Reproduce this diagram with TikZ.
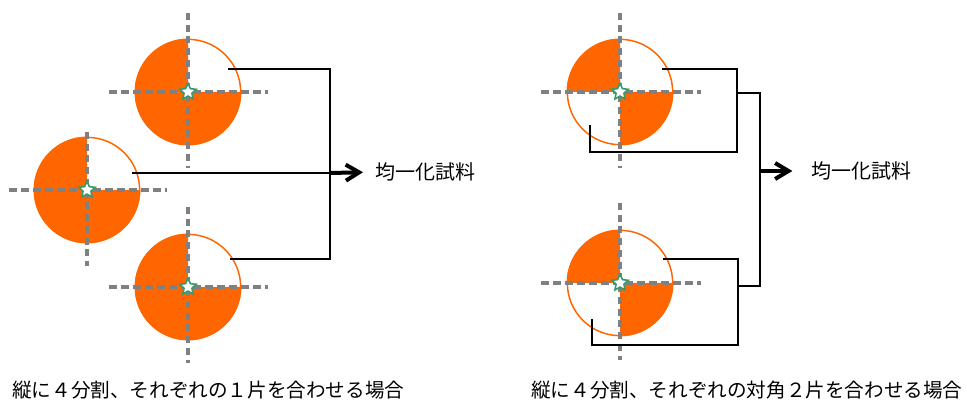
\documentclass[tikz,border=0pt]{standalone}
\usepackage{fontspec}
\setmainfont{Noto Sans CJK JP}
\usetikzlibrary{arrows.meta,shapes.geometric}
\definecolor{orng}{HTML}{FF6600}
\definecolor{dgray}{HTML}{808080}
\definecolor{stargreen}{HTML}{3A9A6E}
\newcommand{\fruit}[2]{%
  \draw[orng,line width=1.1pt] (#1) circle[radius=39.5pt];
  \foreach \a in {#2} {\fill[orng] (#1) -- ++(\a:40pt) arc[start angle=\a,end angle=\a+90,radius=40pt] -- cycle;}
}
\begin{document}
\begin{tikzpicture}[x=0.75pt,y=0.75pt,
  hdash/.style={dgray,line width=3pt,dash pattern=on 6pt off 3pt},
  vdash/.style={dgray,line width=2.3pt,dash pattern=on 5.2pt off 3.6pt},
  conn/.style={black,line width=1.5pt},
  outarrow/.style={black,line width=3pt,-{Straight Barb[length=10pt,width=12pt]}},
  core/.style={star,star points=5,star point ratio=2.1,minimum size=13pt,inner sep=0pt,draw=stargreen,fill=white,line width=1.2pt},
  lbl/.style={font=\fontsize{15}{18}\selectfont,inner sep=0pt,anchor=west},
  captext/.style={font=\fontsize{14.7}{18}\selectfont,inner sep=0pt,anchor=west}]
\useasboundingbox (0,0) rectangle (967,403);

% fruit centres
\coordinate (c1) at (188,311);
\coordinate (c2) at (87,213);
\coordinate (c3) at (188,116);
\coordinate (d1) at (620,311);
\coordinate (d2) at (620,120);

\fruit{c1}{90,180,270}
\fruit{c2}{90,180,270}
\fruit{c3}{90,180,270}
\fruit{d1}{90,270}
\fruit{d2}{90,270}

% cutting lines
\draw[vdash] (188,390) -- (188,235);
\draw[hdash] (109,311) -- (268,311);
\draw[vdash] (87,271) -- (87,137);
\draw[hdash] (9,213) -- (167,213);
\draw[vdash] (188,196) -- (188,40);
\draw[hdash] (109,116) -- (268,116);
\draw[vdash] (620,390) -- (620,235);
\draw[hdash] (541,311) -- (701,311);
\draw[vdash] (620,200) -- (620,43);
\draw[hdash] (541,120) -- (701,120);

\node[core] (s1) at (c1) {};
\node[core] (s2) at (c2) {};
\node[core] (s3) at (c3) {};
\node[core] (s4) at (d1) {};
\node[core] (s5) at (d2) {};

% labels
\node[lbl] (T1) at (375,231) {均一化試料};
\node[lbl] (T2) at (811,232) {均一化試料};
\node[captext] (cap1) at (12,13) {縦に４分割、それぞれの１片を合わせる場合};
\node[captext] (cap2) at (531,13) {縦に４分割、それぞれの対角２片を合わせる場合};

% left connectors
\coordinate (L1) at (228,334);
\coordinate (L2) at (132,230);
\coordinate (L3) at (230,144);
\coordinate (Lj) at (330,230);
\draw[conn] (L1) -| (Lj) |- (L3);
\draw[conn] (L2) -- (Lj);
\draw[outarrow,shorten >=9pt] (Lj) -- (T1.west);

% right connectors
\coordinate (R1) at (662,334);
\coordinate (Rc1) at (737,251);
\coordinate (R1b) at (590,278);
\coordinate (R2) at (663,144);
\coordinate (Rc2) at (738,58);
\coordinate (R2b) at (592,84);
\coordinate (Rm1) at (737,310);
\coordinate (Rm2) at (738,117);
\coordinate (Rj) at (760,232);
\draw[conn] (R1) -| (Rc1) -| (R1b);
\draw[conn] (R2) -| (Rc2) -| (R2b);
\draw[conn] (Rm1) -| (Rj);
\draw[conn] (Rm2) -| (Rj);
\draw[outarrow,shorten >=14pt] (Rj) -- (T2.west);
\end{tikzpicture}
\end{document}
